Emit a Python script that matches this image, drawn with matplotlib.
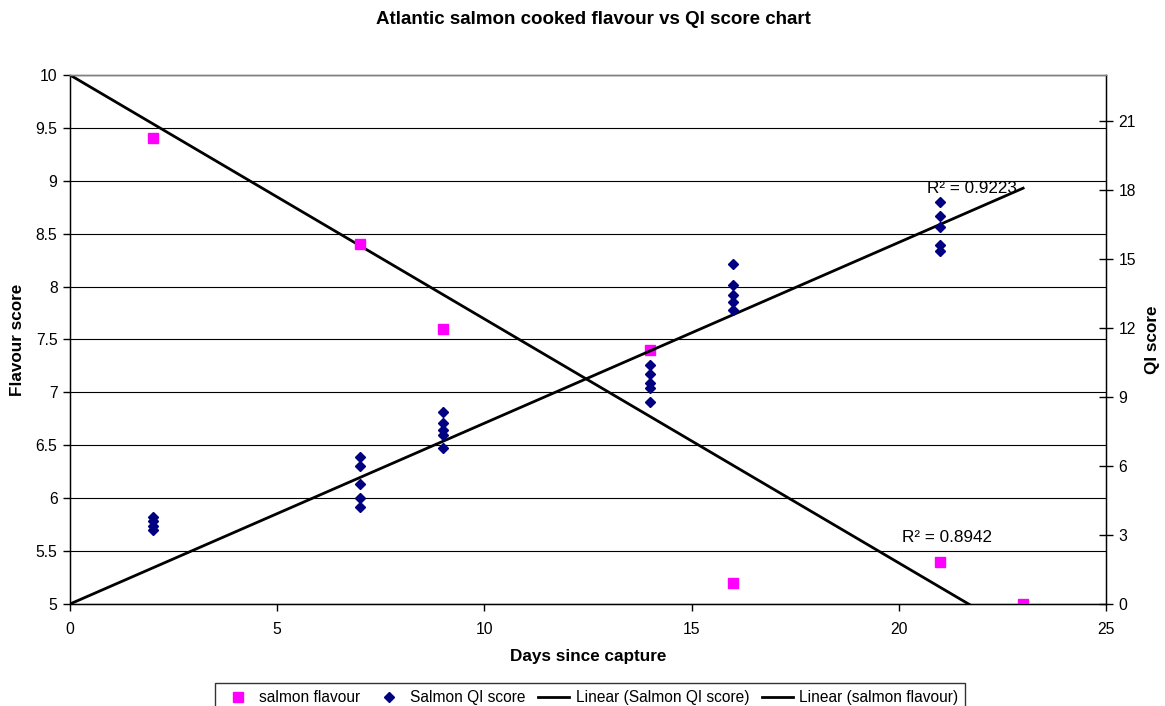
import numpy as np
import matplotlib
matplotlib.use("Agg")
import matplotlib.pyplot as plt
from matplotlib.lines import Line2D

plt.rcParams['font.family'] = ['Liberation Sans', 'DejaVu Sans']

# Cooked flavour panel scores by storage day
flavour_days = [2, 7, 9, 14, 16, 21, 23]
flavour_scores = [9.4, 8.4, 7.6, 7.4, 5.2, 5.4, 5.0]

# Quality Index scores (several fish per sampling day)
qi_days = [2, 2, 2, 2,
           7, 7, 7, 7, 7,
           9, 9, 9, 9, 9,
           14, 14, 14, 14, 14,
           16, 16, 16, 16, 16,
           21, 21, 21, 21, 21]
qi_scores = [3.8, 3.6, 3.4, 3.2,
             6.4, 6.0, 5.2, 4.6, 4.2,
             8.35, 7.85, 7.55, 7.35, 6.8,
             10.4, 10.0, 9.6, 9.4, 8.8,
             14.8, 13.85, 13.45, 13.15, 12.8,
             17.5, 16.85, 16.4, 15.6, 15.35]

# Trendline annotations
r2_qi_label = "R\u00b2 = 0.9223"
r2_flavour_label = "R\u00b2 = 0.8942"

# Linear trends with fixed intercepts (flavour starts at 10, QI at 0)
flavour_intercept = 10.0
qi_intercept = 0.0


def fixed_intercept_slope(x, y, b):
    x = np.asarray(x, float)
    y = np.asarray(y, float)
    return np.sum(x * (y - b)) / np.sum(x * x)


flav_slope = fixed_intercept_slope(flavour_days, flavour_scores, flavour_intercept)
qi_slope = fixed_intercept_slope(qi_days, qi_scores, qi_intercept)

W, H = 1165, 706
fig = plt.figure(figsize=(W / 100, H / 100), dpi=100)
ax = fig.add_axes([70 / W, 1 - 604 / H, 1036 / W, 529 / H])
ax2 = ax.twinx()

ax.set_xlim(0, 25)
ax.set_ylim(5, 10)
ax2.set_ylim(0, 23)

ax.set_xticks(np.arange(0, 26, 5))
ax.set_yticks(np.arange(5, 10.01, 0.5))
ax.set_yticklabels([f"{v:g}" for v in np.arange(5, 10.01, 0.5)])
ax2.set_yticks(np.arange(0, 22, 3))

ax.grid(axis='y', color='black', linewidth=0.8)
ax.set_axisbelow(True)

for a in (ax, ax2):
    a.spines['top'].set_color('#808080')
    a.spines['top'].set_linewidth(1.0)
ax.spines['left'].set_linewidth(1.0)
ax.spines['bottom'].set_linewidth(1.0)
ax2.spines['right'].set_linewidth(1.0)

tick_fs = 11.3
ax.tick_params(axis='y', direction='out', length=5, width=1, labelsize=tick_fs, pad=4)
ax.tick_params(axis='x', direction='out', length=5, width=1, labelsize=tick_fs, pad=8)
ax2.tick_params(axis='y', direction='inout', length=10, width=1, labelsize=tick_fs, pad=4)

# Flavour points and trend (primary axis)
ax.plot(flavour_days, flavour_scores, linestyle='none', marker='s',
        markersize=7, color='#FF00FF', zorder=4)
xf = np.array([0, 23])
ax.plot(xf, flavour_intercept + flav_slope * xf, color='black', linewidth=2, zorder=3)

# QI points and trend (secondary axis)
ax2.plot(qi_days, qi_scores, linestyle='none', marker='D',
         markersize=5, color='#000080', zorder=4)
xq = np.array([0, 23])
ax2.plot(xq, qi_intercept + qi_slope * xq, color='black', linewidth=2, zorder=3)

r2_fs = 12.3
ax.text(20.68, 8.885, r2_qi_label, fontsize=r2_fs, va='baseline', ha='left', zorder=5)
ax.text(20.08, 5.585, r2_flavour_label, fontsize=r2_fs, va='baseline', ha='left', zorder=5)

label_fs = 12.3
fig.text(588 / W, 1 - 657 / H, "Days since capture", fontsize=label_fs,
         fontweight='bold', ha='center', va='center')
fig.text(18 / W, 1 - 340 / H, "Flavour score", fontsize=label_fs,
         fontweight='bold', ha='center', va='center', rotation=90)
fig.text(1152 / W, 1 - 340 / H, "QI score", fontsize=label_fs,
         fontweight='bold', ha='center', va='center', rotation=90)

fig.text(593 / W, 1 - 19 / H, "Atlantic salmon cooked flavour vs QI score chart",
         fontsize=13.5, fontweight='bold', ha='center', va='center')

handles = [
    Line2D([], [], linestyle='none', marker='s', markersize=7, color='#FF00FF'),
    Line2D([], [], linestyle='none', marker='D', markersize=5, color='#000080'),
    Line2D([], [], color='black', linewidth=2),
    Line2D([], [], color='black', linewidth=2),
]
labels = ["salmon flavour", "Salmon QI score",
          "Linear (Salmon QI score)", "Linear (salmon flavour)"]
leg = fig.legend(handles, labels, loc='upper center',
                 bbox_to_anchor=(590 / W, 1 - 683 / H), ncol=4, fontsize=11.2,
                 frameon=True, fancybox=False, edgecolor='black',
                 handlelength=2.0, handletextpad=0.4, columnspacing=0.8,
                 borderpad=0.45, borderaxespad=0)
leg.get_frame().set_linewidth(1.0)

fig.savefig("out.png", dpi=100)
